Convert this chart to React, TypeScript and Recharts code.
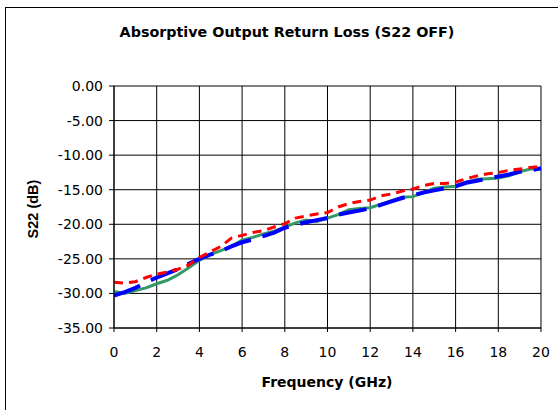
import { LineChart, Line, XAxis, YAxis, CartesianGrid } from 'recharts'

// frequency points (GHz)
const FREQ = [
  0, 0.5, 1, 1.5, 2, 2.5, 3, 3.5, 4, 4.5, 5, 5.5, 6, 6.5, 7, 7.5, 8, 8.5, 9, 9.5, 10,
  10.5, 11, 11.5, 12, 12.5, 13, 13.5, 14, 14.5, 15, 15.5, 16, 16.5, 17, 17.5, 18, 18.5, 19, 19.5, 20,
]

// S22 in dB
const S22_RED = [
  -28.4, -28.5, -28.3, -27.7, -27.2, -26.9, -26.5, -25.9, -24.8, -24.0, -23.2, -22.0, -21.6, -21.2,
  -20.9, -20.4, -19.9, -19.1, -18.8, -18.5, -18.3, -17.5, -17.0, -16.7, -16.5, -15.9, -15.6, -15.2,
  -14.9, -14.4, -14.1, -14.1, -13.9, -13.4, -13.0, -12.7, -12.5, -12.2, -12.0, -11.8, -11.6,
]
const S22_GREEN = [
  -29.7, -30.0, -29.6, -29.2, -28.6, -28.1, -27.3, -26.3, -25.2, -24.4, -23.8, -23.2, -22.3, -21.9,
  -21.4, -21.0, -20.4, -19.8, -19.4, -19.6, -19.1, -18.6, -17.9, -17.7, -17.6, -17.1, -16.6, -16.1,
  -16.0, -15.4, -14.8, -14.6, -14.5, -13.9, -13.5, -13.4, -13.3, -13.0, -12.4, -12.0, -12.0,
]
const S22_BLUE = [
  -30.3, -29.8, -29.2, -28.4, -27.7, -27.1, -26.5, -25.7, -25.0, -24.4, -23.9, -23.2, -22.6, -22.2,
  -21.7, -21.2, -20.5, -20.1, -19.7, -19.4, -19.1, -18.6, -18.3, -18.0, -17.7, -17.2, -16.7, -16.2,
  -15.8, -15.4, -15.1, -14.8, -14.5, -14.0, -13.7, -13.4, -13.1, -12.8, -12.4, -12.2, -11.9,
]

const X_TICKS = [0, 2, 4, 6, 8, 10, 12, 14, 16, 18, 20]
const Y_TICKS = [-35, -30, -25, -20, -15, -10, -5, 0]

const data = FREQ.map((f, i) => ({
  freq: f,
  red: S22_RED[i],
  green: S22_GREEN[i],
  blue: S22_BLUE[i],
}))

const tickStyle = { fontFamily: 'DejaVu Sans', fontSize: 14, fill: '#000' }

export default function App() {
  return (
    <div style={{ position: 'absolute', left: 0, top: 0, width: 558, height: 410, overflow: 'hidden', background: '#fff' }}>
      <div style={{ position: 'absolute', left: 5, top: 7, width: 600, height: 450, border: '1px solid #000' }} />
      <div
        style={{
          position: 'absolute',
          left: 0,
          top: 22,
          width: 574,
          textAlign: 'center',
          fontFamily: 'DejaVu Sans',
          fontWeight: 'bold',
          fontSize: 14.3,
          lineHeight: '20px',
        }}
      >
        Absorptive Output Return Loss (S22 OFF)
      </div>
      <div style={{ position: 'absolute', left: 0, top: 0 }}>
        <LineChart width={558} height={410} data={data} margin={{ top: 86, right: 17, bottom: 0, left: 0 }}>
          <CartesianGrid stroke="#000" strokeWidth={1} fill="#fff" />
          <XAxis
            dataKey="freq"
            type="number"
            domain={[0, 20]}
            ticks={X_TICKS}
            interval={0}
            height={82}
            tickSize={4}
            tickMargin={15}
            stroke="#000"
            tick={tickStyle}
            label={{
              content: () => (
                <text x={327} y={387} textAnchor="middle" fontFamily="DejaVu Sans" fontWeight="bold" fontSize={14}>
                  Frequency (GHz)
                </text>
              ),
            }}
          />
          <YAxis
            type="number"
            domain={[-35, 0]}
            ticks={Y_TICKS}
            interval={0}
            width={114}
            tickSize={5}
            tickMargin={6}
            stroke="#000"
            tick={tickStyle}
            tickFormatter={(v: number) => v.toFixed(2)}
            label={{
              content: () => (
                <text
                  x={38}
                  y={209}
                  transform="rotate(-90 38 209)"
                  textAnchor="middle"
                  fontFamily="Liberation Sans"
                  fontWeight="bold"
                  fontSize={14.5}
                >
                  S22 (dB)
                </text>
              ),
            }}
          />
          <Line dataKey="green" type="linear" stroke="#339966" strokeWidth={3} dot={false} isAnimationActive={false} />
          <Line
            dataKey="blue"
            type="linear"
            stroke="#0000FF"
            strokeWidth={4}
            strokeDasharray="28 12"
            dot={false}
            isAnimationActive={false}
          />
          <Line
            dataKey="red"
            type="linear"
            stroke="#FF0000"
            strokeWidth={3}
            strokeDasharray="9 6"
            dot={false}
            isAnimationActive={false}
          />
        </LineChart>
      </div>
    </div>
  )
}
